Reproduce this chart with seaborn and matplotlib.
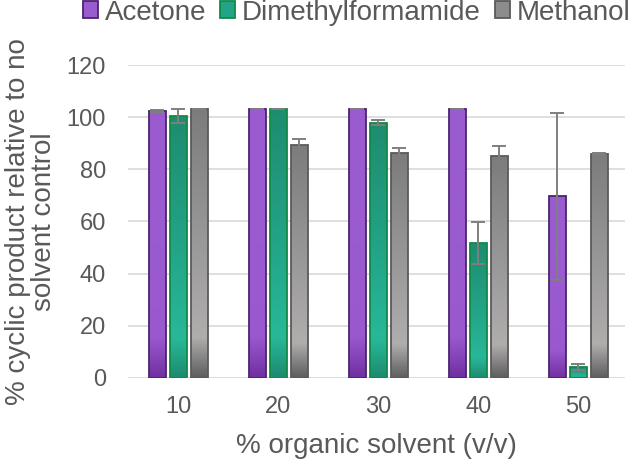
import numpy as np
import pandas as pd
import matplotlib
matplotlib.use("Agg")
import matplotlib.pyplot as plt
from matplotlib.colors import LinearSegmentedColormap
from matplotlib.patches import Patch
import seaborn as sns

solvent_pct = ["10", "20", "30", "40", "50"]
solvents = ["Acetone", "Dimethylformamide", "Methanol"]
acetone = [102.3, 103.0, 103.0, 103.0, 69.7]
dmf = [100.4, 103.0, 97.9, 51.8, 4.1]
methanol = [103.0, 89.2, 86.4, 85.1, 86.0]
acetone_err = [0.4, 0.0, 0.0, 0.0, 32.0]
dmf_err = [2.7, 0.0, 0.9, 8.0, 1.3]
methanol_err = [0.0, 2.3, 1.9, 3.7, 0.3]

values = {"Acetone": acetone, "Dimethylformamide": dmf, "Methanol": methanol}
errors = {"Acetone": acetone_err, "Dimethylformamide": dmf_err, "Methanol": methanol_err}

rows = []
for s in solvents:
    for c, v in zip(solvent_pct, values[s]):
        rows.append({"pct": c, "solvent": s, "value": v})
df = pd.DataFrame(rows)

grad = {
    "Acetone": ["#7030A0", "#9A58CF", "#9B5BD0", "#9B5BD0"],
    "Dimethylformamide": ["#1D8A6E", "#28B899", "#23A487", "#1E8C6F"],
    "Methanol": ["#5E5E5E", "#B0ADAD", "#9A9999", "#7C7C7C"],
}
stops = [0.0, 0.15, 0.5, 1.0]
edges = {"Acetone": "#4A2470", "Dimethylformamide": "#108A48", "Methanol": "#5A5A5A"}
mid = {"Acetone": "#9B5BD0", "Dimethylformamide": "#23A487", "Methanol": "#8C8C8C"}

sns.set_theme(style="white")
plt.rcParams["font.family"] = ["Liberation Sans", "DejaVu Sans"]

fig = plt.figure(figsize=(6.3, 4.63), dpi=100)
ax = fig.add_axes([128 / 630, 1 - 377.7 / 463, (625 - 128) / 630, (377.7 - 65.2) / 463])

sns.barplot(data=df, x="pct", y="value", hue="solvent", hue_order=solvents,
            order=solvent_pct, palette=mid, width=0.633, gap=0.2,
            errorbar=None, legend=False, ax=ax, zorder=2)

for s, cont in zip(solvents, ax.containers):
    cmap = LinearSegmentedColormap.from_list(s, list(zip(stops, grad[s])))
    img = np.linspace(0, 1, 256).reshape(-1, 1)
    xs, ys = [], []
    for bar in cont:
        x0, w, h = bar.get_x(), bar.get_width(), bar.get_height()
        bar.set_facecolor("none")
        bar.set_edgecolor(edges[s])
        bar.set_linewidth(1.3)
        bar.set_zorder(3)
        im = ax.imshow(img, cmap=cmap, origin="lower", aspect="auto",
                       extent=(x0, x0 + w, 0, h), zorder=2, interpolation="bilinear")
        im.set_clip_path(bar)
        xs.append(x0 + w / 2)
        ys.append(h)
    ax.errorbar(xs, ys, yerr=errors[s], fmt="none", ecolor="#7F7F7F",
                elinewidth=1.4, capsize=5, capthick=1.4, zorder=4)

ax.set_xlim(-0.503, 4.467)
ax.set_ylim(0, 120)
ax.set_yticks(range(0, 121, 20))
ax.yaxis.grid(True, color="#D9D9D9", linewidth=1.2, zorder=0)
ax.set_axisbelow(True)
for sp in ax.spines.values():
    sp.set_visible(False)
ax.tick_params(axis="both", colors="#595959", labelsize=17, length=0)
ax.tick_params(axis="y", pad=16)
ax.tick_params(axis="x", pad=13)
ax.set_xlabel("% organic solvent (v/v)", fontsize=20, color="#595959", labelpad=11)
ax.set_ylabel("% cyclic product relative to no\nsolvent control", fontsize=20,
              color="#595959", labelpad=7, linespacing=1.0)

handles = [Patch(facecolor=mid[s], edgecolor=edges[s], linewidth=1.3, label=s) for s in solvents]
leg = fig.legend(handles=handles, loc="center", bbox_to_anchor=(0.566, 1 - 12.5 / 463), ncol=3,
                 frameon=False, fontsize=20, handlelength=0.54, handleheight=0.54,
                 handletextpad=0.25, columnspacing=0.5, borderpad=0.1)
for t in leg.get_texts():
    t.set_color("#595959")

fig.savefig("out.png", dpi=100)
